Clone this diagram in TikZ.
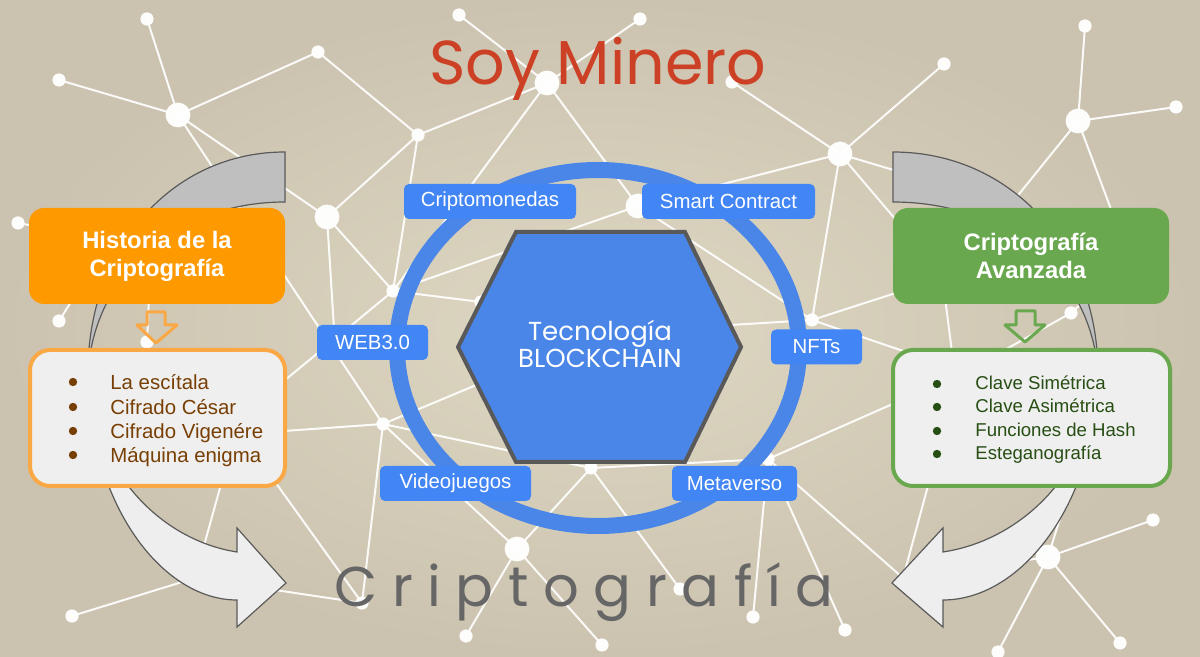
\documentclass[tikz,border=0pt]{standalone}
\usepackage{fontspec}
\setmainfont{Liberation Sans}
\newfontfamily\geo{Poppins}
\newfontfamily\geosp[LetterSpace=26]{Poppins}
\definecolor{bgin}{HTML}{DED7C2}
\definecolor{bgout}{HTML}{CBC3AF}
\definecolor{titlered}{HTML}{CC4125}
\definecolor{ringblue}{HTML}{4A86E8}
\definecolor{labelblue}{HTML}{4285F4}
\definecolor{hexborder}{HTML}{595959}
\definecolor{orangebox}{HTML}{FF9900}
\definecolor{orangeline}{HTML}{F9A845}
\definecolor{greenbox}{HTML}{6AA84F}
\definecolor{listfill}{HTML}{EFEFEF}
\definecolor{browntext}{HTML}{783F04}
\definecolor{greentext}{HTML}{274E13}
\definecolor{arrowgray}{HTML}{BFBFBF}
\definecolor{arrowlight}{HTML}{EEEEEE}
\definecolor{arrowline}{HTML}{5A5A5A}
\definecolor{bottomgray}{HTML}{666666}
\begin{document}
\begin{tikzpicture}[x=0.5pt,y=-0.5pt,
  net/.style={draw=white, line width=1pt, opacity=0.92},
  bigdot/.style={fill=white, opacity=0.97},
  smalldot/.style={fill=white, opacity=0.97},
  tag/.style={fill=labelblue, rounded corners=2.5pt, text=white, inner sep=0pt,
    font=\fontsize{10.2}{12}\selectfont, minimum height=17.5pt},
  hdr/.style={rounded corners=7.5pt, text=white, inner sep=0pt, align=center,
    font=\bfseries\fontsize{11.9}{14}\selectfont, minimum height=48pt},
  listbox/.style={fill=listfill, line width=2pt, rounded corners=10pt,
    minimum height=68pt, inner sep=0pt},
  itemL/.style={anchor=base west, inner sep=0pt, text=browntext,
    font=\fontsize{10.2}{12}\selectfont},
  itemR/.style={anchor=base west, inner sep=0pt, text=greentext,
    font=\fontsize{9.3}{11}\selectfont},
  bulletL/.style={circle, fill=browntext, inner sep=0pt, minimum size=4.2pt},
  bulletR/.style={circle, fill=greentext, inner sep=0pt, minimum size=4.2pt},
  hollow/.style={line width=1.5pt, line join=round},
  gray part/.style={fill=arrowgray, draw=arrowline, line width=0.6pt},
  light part/.style={fill=arrowlight, draw=arrowline, line width=0.6pt}
]
\useasboundingbox (0,0) rectangle (1200,657);
\shade[inner color=bgin, outer color=bgout] (0,0) rectangle (1200,657);

% ---------- background network ----------
\coordinate (Na) at (147,19);   \coordinate (Nb) at (59,80);
\coordinate (Nc) at (178,115);  \coordinate (Nd) at (318,52);
\coordinate (Ne) at (418,135);  \coordinate (Nf) at (327,217);
\coordinate (Ng) at (18,223);   \coordinate (Nh) at (59,321);
\coordinate (Ni) at (147,342);  \coordinate (Nj) at (393,291);
\coordinate (Nk) at (481,302);  \coordinate (Nl) at (383,424);
\coordinate (Nm) at (591,468);  \coordinate (Nn) at (517,549);
\coordinate (No) at (362,603);  \coordinate (Np) at (72,616);
\coordinate (Nq) at (466,636);  \coordinate (Nr) at (459,15);
\coordinate (Ns) at (547,83);   \coordinate (Nt) at (640,19);
\coordinate (Nu) at (732,82);   \coordinate (Nv) at (840,154);
\coordinate (Nw) at (944,64);   \coordinate (Nx) at (1085,26);
\coordinate (Ny) at (1078,121); \coordinate (Nz) at (1176,107);
\coordinate (Naa) at (638,206); \coordinate (Nbb) at (812,320);
\coordinate (Ncc) at (1071,313);\coordinate (Ndd) at (768,459);
\coordinate (Nee) at (1048,557);\coordinate (Nff) at (1153,520);
\coordinate (Ngg) at (1120,643);\coordinate (Nhh) at (998,652);
\coordinate (Nii) at (845,630); \coordinate (Njj) at (753,617);
\coordinate (Nkk) at (680,589); \coordinate (Nll) at (602,645);
% hidden ends (behind shapes)
\coordinate (H1) at (195,578);  \coordinate (H2) at (903,578);
\coordinate (H3) at (270,432);  \coordinate (H4) at (335,345);
\coordinate (H5) at (600,333);  \coordinate (H6) at (960,190);
\coordinate (H7) at (965,372);  \coordinate (H8) at (110,240);
\coordinate (H9) at (990,230);  \coordinate (H10) at (1130,260);
\coordinate (H11) at (250,409); \coordinate (H12) at (245,440);
\coordinate (H13) at (225,470); \coordinate (H14) at (1075,470);
\coordinate (H15) at (935,460); \coordinate (H16) at (150,275);
\coordinate (H18) at (930,260); \coordinate (H19) at (930,282);
\coordinate (H20) at (944,290); \coordinate (H21) at (953,360);
\coordinate (H22) at (560,350);

\foreach \p/\q in {Na/Nc, Nb/Nc, Nc/Nd, Nd/Ne, Nc/Nf, Nc/Nl, Ne/Nf, Ne/Ns,
  Ne/Nj, Nf/Nj, Nf/H4, Nj/Naa, Nj/Nk, Nj/H11, Ns/Nr, Ns/Nt, Ns/Naa, Ns/Nj,
  Nu/Nv, Nv/Nw, Nv/Naa, Nv/Nbb, Nv/H6, Nv/H18, Ny/Nx, Ny/Nz, Ny/H9, Ny/H10,
  Naa/Nbb, Nbb/H5, Nbb/H19, Nbb/H7, Ncc/H7, Ncc/H10, Nl/Nm, Nm/Ndd, Nm/Nn,
  Nm/Nkk, Nl/Nn, Nl/No, Nl/H3, No/H12, No/H1, H1/Np, H1/H13, Nn/Nq, Nn/Nll,
  Ndd/Njj, Ndd/Nii, Ndd/H2, Ndd/H7, Nee/Nff, Nee/Ngg, Nee/Nhh, Nee/H2,
  Nee/H14, H2/H15, Ng/H8, Nh/H8, Ni/H16, H20/H21, Nl/H22, Nk/H5, Nm/H5}
  \draw[net] (\p) -- (\q);

\foreach \p in {Nc, Nf, Ns, Nv, Ny, Naa, Nn, Nee}
  \fill[bigdot] (\p) circle[radius=6.2pt];
\foreach \p in {Na, Nb, Nd, Ne, Ng, Nh, Ni, Nj, Nk, Nl, Nm, No, Np, Nq, Nr,
  Nt, Nu, Nw, Nx, Nz, Nbb, Ncc, Ndd, Nff, Ngg, Nhh, Nii, Njj, Nkk, Nll}
  \fill[smalldot] (\p) circle[radius=3.3pt];

% ---------- curved arrows ----------
\path[gray part] (285,152) .. controls (170,152) and (88,250) .. (88,372)
  .. controls (95,270) and (180,202) .. (285,202) -- cycle;
\path[light part] (88,372) .. controls (88,500) and (160,600) .. (237,600)
  -- (237,627) -- (286,583) -- (237,528) -- (237,552)
  .. controls (160,540) and (92,470) .. (88,372) -- cycle;
\begin{scope}[shift={(1189.4,0)}, xscale=-1.04]
\path[gray part] (285,152) .. controls (170,152) and (88,250) .. (88,372)
  .. controls (95,270) and (180,202) .. (285,202) -- cycle;
\path[light part] (88,372) .. controls (88,500) and (160,600) .. (237,600)
  -- (237,627) -- (286,583) -- (237,528) -- (237,552)
  .. controls (160,540) and (92,470) .. (88,372) -- cycle;
\end{scope}

% ---------- side boxes ----------
\node[hdr, fill=orangebox, minimum width=128pt] (hist) at (157,256)
  {Historia de la\\Criptografía};
\node[hdr, fill=greenbox, minimum width=138pt] (avz) at (1031,256)
  {Criptografía\\Avanzada};

\draw[hollow, draw=orangeline] (147,312) -- (165,312) -- (165,325) -- (177,325)
  -- (156,343) -- (137,325) -- (147,325) -- cycle;
\draw[hollow, draw=greenbox] (1016,311) -- (1035,311) -- (1035,325) -- (1045,325)
  -- (1025,342) -- (1005,325) -- (1016,325) -- cycle;

\node[listbox, draw=orangeline, minimum width=127.5pt] (listL) at (157.5,418) {};
\node[listbox, draw=greenbox, minimum width=138.5pt] (listR) at (1031.5,418) {};

\node[bulletL] (bl1) at (73,382) {};
\node[bulletL] (bl2) at (73,407) {};
\node[bulletL] (bl3) at (73,431) {};
\node[bulletL] (bl4) at (73,455) {};
\node[itemL] (tl1) at (110,390) {La escítala};
\node[itemL] (tl2) at (110,415) {Cifrado César};
\node[itemL] (tl3) at (110,439) {Cifrado Vigenére};
\node[itemL] (tl4) at (110,463) {Máquina enigma};

\node[bulletR] (br1) at (937,384) {};
\node[bulletR] (br2) at (937,407) {};
\node[bulletR] (br3) at (937,431) {};
\node[bulletR] (br4) at (937,454) {};
\node[itemR] (tr1) at (975,390) {Clave Simétrica};
\node[itemR] (tr2) at (975,413) {Clave Asimétrica};
\node[itemR] (tr3) at (975,437) {Funciones de Hash};
\node[itemR] (tr4) at (975,460) {Esteganografía};

% ---------- centre ----------
\draw[ringblue, line width=8pt] (598,348) ellipse [x radius=100.5pt, y radius=89pt];
\draw[fill=ringblue, draw=hexborder, line width=2pt, line join=miter]
  (458,347) -- (516,232) -- (685,232) -- (741,347) -- (685,462) -- (516,462) -- cycle;
\node[text=white, align=center, font=\geo\fontsize{13}{13.5}\selectfont] (hex)
  at (600,344) {Tecnología\\BLOCKCHAIN};

\node[tag, minimum width=86pt]   (cm)  at (490,201.5) {Criptomonedas};
\node[tag, minimum width=86.5pt] (sc)  at (728.5,201.5) {Smart Contract};
\node[tag, minimum width=55.5pt] (w3)  at (372.5,342.5) {WEB3.0};
\node[tag, minimum width=45.5pt] (nft) at (816.5,347) {NFTs};
\node[tag, minimum width=75.5pt] (vj)  at (455.5,483.5) {Videojuegos};
\node[tag, minimum width=62.5pt] (mv)  at (734.5,483.5) {Metaverso};

% ---------- titles ----------
\node[text=titlered, anchor=base, inner sep=0pt,
  font=\geo\fontsize{31}{37}\selectfont] (title) at (598,85) {Soy Minero};
\node[text=bottomgray, anchor=base west, inner sep=0pt,
  font=\geosp\fontsize{28}{34}\selectfont] (crip) at (334,606) {Criptografía};
\end{tikzpicture}
\end{document}
